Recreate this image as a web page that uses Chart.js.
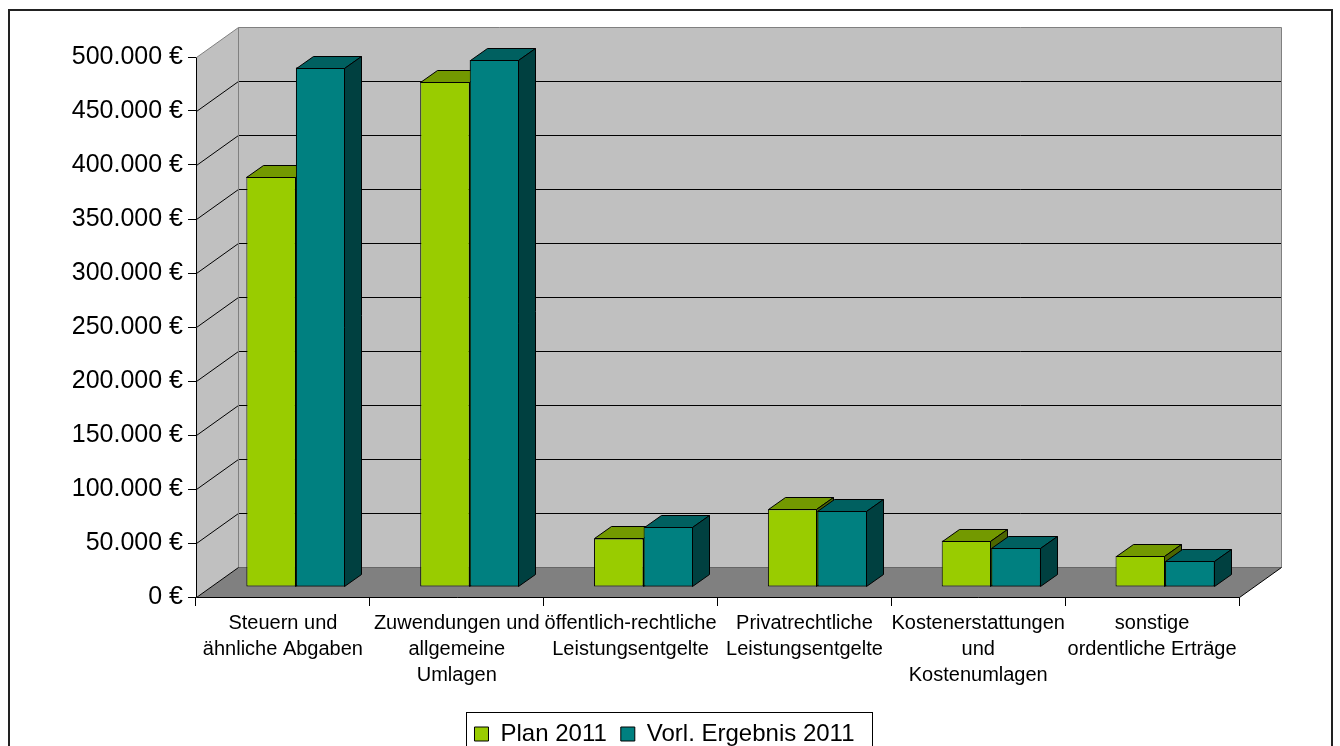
<!DOCTYPE html>
<html>
<head>
<meta charset="utf-8">
<script src="https://cdn.jsdelivr.net/npm/chart.js@4.4.1/dist/chart.umd.min.js"></script>
<style>
  html, body { margin: 0; padding: 0; background: #fff; overflow: hidden; }
  #chart { display: block; }
</style>
</head>
<body>
<canvas id="chart" width="1340" height="756"></canvas>
<script>
// Ertraege 2011 - Plan vs. vorlaeufiges Ergebnis

const categories = [
  ['Steuern und', 'ähnliche Abgaben'],
  ['Zuwendungen und', 'allgemeine', 'Umlagen'],
  ['öffentlich-rechtliche', 'Leistungsentgelte'],
  ['Privatrechtliche', 'Leistungsentgelte'],
  ['Kostenerstattungen', 'und', 'Kostenumlagen'],
  ['sonstige', 'ordentliche Erträge']
];
const planValues   = [380000, 468000, 45000, 72000, 43000, 29000];
const resultValues = [481000, 488000, 56000, 70500, 36000, 24000];
const seriesNames  = ['Plan 2011', 'Vorl. Ergebnis 2011'];

const yMin = 0;
const yMax = 500000;
const yStep = 50000;

// 3D look (pixels)
const WALL = { dx: 42, dy: -30 };       // depth of walls / floor
const BAR_OFF = { dx: 13, dy: -10 };    // bars stand a bit behind the front edge
const BAR_DEPTH = { dx: 17, dy: -12 };  // depth of each bar
const LEGEND_SHIFT = 35;                // legend sits a bit right of the chart centre

function euro(v) {
  return String(v).replace(/\B(?=(\d{3})+(?!\d))/g, '.') + ' €';
}

function poly(ctx, pts, fill, stroke) {
  ctx.beginPath();
  ctx.moveTo(pts[0][0], pts[0][1]);
  for (let i = 1; i < pts.length; i++) ctx.lineTo(pts[i][0], pts[i][1]);
  ctx.closePath();
  if (fill) { ctx.fillStyle = fill; ctx.fill(); }
  if (stroke) { ctx.strokeStyle = stroke; ctx.lineWidth = 1; ctx.stroke(); }
}

function line(ctx, x1, y1, x2, y2, color) {
  ctx.beginPath();
  ctx.moveTo(x1, y1);
  ctx.lineTo(x2, y2);
  ctx.strokeStyle = color;
  ctx.lineWidth = 1;
  ctx.stroke();
}

// top and right side of one bar
function barFaces(ctx, bar, ds) {
  const bd = BAR_DEPTH;
  const p = bar.getProps(['x', 'y', 'base', 'width'], true);
  const l = Math.round(p.x - p.width / 2) + 0.5;
  const r = Math.round(p.x + p.width / 2) - 0.5;
  const top = Math.round(p.y) + 0.5;
  const base = Math.round(p.base) - 0.5;
  poly(ctx, [[l, top], [l + bd.dx, top + bd.dy], [r + bd.dx, top + bd.dy], [r, top]], ds.topColor, '#000');
  poly(ctx, [[r, top], [r + bd.dx, top + bd.dy], [r + bd.dx, base + bd.dy], [r, base]], ds.sideColor, '#000');
}

const threeD = {
  id: 'threeD',
  afterLayout(chart) {
    const lg = chart.legend;
    if (lg) { lg.left += LEGEND_SHIFT; lg.right += LEGEND_SHIFT; }
  },
  beforeDraw(chart) {
    const ctx = chart.ctx;
    ctx.save();
    ctx.strokeStyle = '#222';
    ctx.lineWidth = 2;
    ctx.strokeRect(9, 10, 1323, 800);
    ctx.restore();
  },
  beforeDatasetsDraw(chart) {
    const { ctx, chartArea: a, scales: { y } } = chart;
    const L = a.left + 0.5, R = a.right + 0.5, T = a.top + 0.5, B = a.bottom + 0.5;
    const dx = WALL.dx, dy = WALL.dy;

    ctx.save();
    // back wall, left wall, floor
    poly(ctx, [[L + dx, T + dy], [R + dx, T + dy], [R + dx, B + dy], [L + dx, B + dy]], '#c0c0c0');
    poly(ctx, [[L, T], [L + dx, T + dy], [L + dx, B + dy], [L, B]], '#c0c0c0');
    poly(ctx, [[L, B], [L + dx, B + dy], [R + dx, B + dy], [R, B]], '#808080');

    // gridlines on the left wall and back wall
    y.ticks.forEach(t => {
      if (t.value === yMin || t.value === yMax) return;
      const py = Math.round(y.getPixelForValue(t.value)) + 0.5;
      ctx.beginPath();
      ctx.moveTo(L, py);
      ctx.lineTo(L + dx, py + dy);
      ctx.lineTo(R + dx, py + dy);
      ctx.strokeStyle = '#000';
      ctx.lineWidth = 1;
      ctx.stroke();
    });

    // wall edges
    line(ctx, L + dx, T + dy, R + dx, T + dy, '#808080');
    line(ctx, R + dx, T + dy, R + dx, B + dy, '#808080');
    line(ctx, L + dx, T + dy, L + dx, B + dy, '#808080');
    line(ctx, L, T, L + dx, T + dy, '#808080');
    line(ctx, L + dx, B + dy, R + dx, B + dy, '#666');
    line(ctx, L, B, L + dx, B + dy, '#000');
    line(ctx, R, B, R + dx, B + dy, '#000');
    line(ctx, L, B, R, B, '#000');
    line(ctx, L, T, L, B, '#000');
    ctx.restore();

    // move the bars back into the room
    ctx.save();
    ctx.translate(BAR_OFF.dx, BAR_OFF.dy);
  },
  afterDatasetsDraw(chart) {
    const ctx = chart.ctx;
    const metas = chart.data.datasets.map((ds, i) => chart.getDatasetMeta(i));
    // per category: left bar faces, then right bar front again, then its faces
    for (let c = 0; c < chart.data.labels.length; c++) {
      metas.forEach((meta, i) => {
        const bar = meta.data[c];
        if (!bar) return;
        if (i > 0) bar.draw(ctx);
        barFaces(ctx, bar, chart.data.datasets[i]);
      });
    }
    ctx.restore();
  },
  afterDraw(chart) {
    const lg = chart.legend;
    if (!lg || !lg.legendHitBoxes || !lg.legendHitBoxes.length) return;
    const hb = lg.legendHitBoxes;
    const first = hb[0], last = hb[hb.length - 1];
    const ctx = chart.ctx;
    const cy = first.top + first.height / 2;
    ctx.save();
    ctx.strokeStyle = '#000';
    ctx.lineWidth = 1;
    ctx.strokeRect(Math.round(first.left - 8) + 0.5, Math.round(cy - 22) + 0.5,
      Math.round(last.left + last.width + 18 - (first.left - 8)), 60);
    ctx.restore();
  }
};

Chart.defaults.font.family = "'Liberation Sans', Arial, sans-serif";
Chart.defaults.color = '#000';

const ctx = document.getElementById('chart').getContext('2d');
new Chart(ctx, {
  type: 'bar',
  data: {
    labels: categories,
    datasets: [
      {
        label: seriesNames[0],
        data: planValues,
        backgroundColor: '#99cc00',
        topColor: '#739900',
        sideColor: '#4d6600',
        borderColor: '#000',
        borderWidth: 1,
        borderSkipped: false,
        clip: false
      },
      {
        label: seriesNames[1],
        data: resultValues,
        backgroundColor: '#008080',
        topColor: '#006060',
        sideColor: '#004040',
        borderColor: '#000',
        borderWidth: 1,
        borderSkipped: false,
        clip: false
      }
    ]
  },
  options: {
    responsive: false,
    devicePixelRatio: 1,
    animation: false,
    layout: { padding: { left: 20, right: 101, top: 57, bottom: 0 } },
    datasets: {
      bar: { categoryPercentage: 0.57, barPercentage: 1.0 }
    },
    plugins: {
      legend: {
        position: 'bottom',
        labels: {
          boxWidth: 14,
          boxHeight: 14,
          padding: 14,
          font: { size: 24 }
        }
      },
      tooltip: { enabled: false }
    },
    scales: {
      x: {
        offset: true,
        grid: { display: true, drawOnChartArea: false, offset: true, tickLength: 9, color: '#000' },
        border: { display: false },
        ticks: { font: { size: 20, lineHeight: 1.3 }, maxRotation: 0, autoSkip: false, padding: 4 },
        afterFit: s => { s.height = 111; }
      },
      y: {
        min: yMin,
        max: yMax,
        grid: { display: true, drawOnChartArea: false, tickLength: 8, color: '#000' },
        border: { display: false },
        ticks: { stepSize: yStep, font: { size: 25 }, padding: 5, callback: v => euro(v) },
        afterFit: s => { s.width = 176; }
      }
    }
  },
  plugins: [threeD]
});
</script>
</body>
</html>
